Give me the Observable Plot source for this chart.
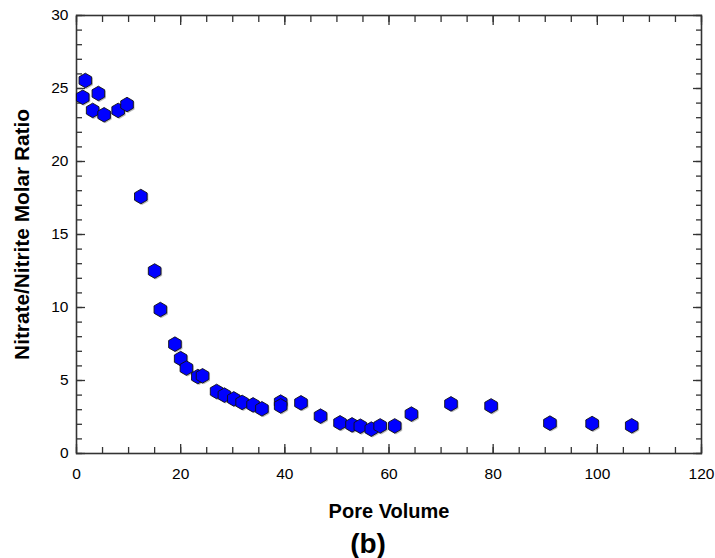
<!DOCTYPE html>
<html>
<head>
<meta charset="utf-8">
<script src="https://cdn.jsdelivr.net/npm/d3@7"></script>
<script src="https://cdn.jsdelivr.net/npm/@observablehq/plot@0.6"></script>
<style>
  html, body { margin: 0; padding: 0; background: #fff; }
  #chart svg { display: block; }
</style>
</head>
<body>
<div id="chart"></div>
<script>
const poreVolume = [1.2, 1.7, 3.1, 4.2, 5.3, 8.0, 9.7, 12.35, 15.0, 16.1, 18.9, 20.0, 21.1, 23.3, 24.2, 26.9, 28.4, 30.2, 31.8, 33.9, 35.6, 39.2, 39.2, 43.1, 46.85, 50.6, 52.9, 54.5, 56.6, 58.3, 61.1, 64.3, 71.9, 79.6, 90.9, 99.0, 106.6];
const molarRatio = [24.4, 25.55, 23.5, 24.66, 23.2, 23.5, 23.9, 17.6, 12.5, 9.86, 7.49, 6.5, 5.85, 5.27, 5.32, 4.25, 4.0, 3.74, 3.5, 3.33, 3.06, 3.52, 3.26, 3.47, 2.56, 2.1, 1.96, 1.87, 1.67, 1.89, 1.89, 2.7, 3.4, 3.26, 2.08, 2.05, 1.9];

const xMajor = [0, 20, 40, 60, 80, 100, 120];
const xMinor = d3.range(0, 121, 5);
const yMajor = [0, 5, 10, 15, 20, 25, 30];
const yMinor = d3.range(0, 31, 1);

const xTitle = "Pore Volume";
const yTitle = "Nitrate/Nitrite Molar Ratio";
const panelTag = "(b)";

const data = poreVolume.map((x, i) => ({x, y: molarRatio[i]}));
const blank = () => "";

const chart = Plot.plot({
  width: 715,
  height: 558,
  marginTop: 15,
  marginRight: 14,
  marginBottom: 105,
  marginLeft: 76,
  style: {fontFamily: "'Liberation Sans', Arial, sans-serif", background: "#fff", color: "#000"},
  x: {domain: [0, 120]},
  y: {domain: [0, 30]},
  marks: [
    // tick labels
    Plot.axisX(xMajor, {tickSize: 0, tickPadding: 14, fontSize: 15.5, label: null}),
    Plot.axisY(yMajor, {tickSize: 0, tickPadding: 8, fontSize: 15.5, label: null}),
    // inward ticks bottom/top
    Plot.axisX(xMinor, {anchor: "bottom", tickSize: -6, tickFormat: blank, label: null, stroke: "#333", strokeWidth: 1.3}),
    Plot.axisX(xMajor, {anchor: "bottom", tickSize: -9, tickFormat: blank, label: null, stroke: "#333", strokeWidth: 1.3}),
    Plot.axisX(xMinor, {anchor: "top", tickSize: -6, tickFormat: blank, label: null, stroke: "#333", strokeWidth: 1.3}),
    Plot.axisX(xMajor, {anchor: "top", tickSize: -9, tickFormat: blank, label: null, stroke: "#333", strokeWidth: 1.3}),
    // inward ticks left/right
    Plot.axisY(yMinor, {anchor: "left", tickSize: -6, tickFormat: blank, label: null, stroke: "#333", strokeWidth: 1.3}),
    Plot.axisY(yMajor, {anchor: "left", tickSize: -9, tickFormat: blank, label: null, stroke: "#333", strokeWidth: 1.3}),
    Plot.axisY(yMinor, {anchor: "right", tickSize: -6, tickFormat: blank, label: null, stroke: "#333", strokeWidth: 1.3}),
    Plot.axisY(yMajor, {anchor: "right", tickSize: -9, tickFormat: blank, label: null, stroke: "#333", strokeWidth: 1.3}),
    Plot.frame({stroke: "#333", strokeWidth: 1.6}),
    // marker shadow
    Plot.dot(data, {x: "x", y: "y", symbol: "hexagon", r: 6.3, fill: "#8a8a8a", fillOpacity: 0.6, dx: 1.2, dy: 1.2}),
    Plot.dot(data, {x: "x", y: "y", symbol: "hexagon", r: 6.3, fill: "#0000ff", stroke: "#111", strokeWidth: 0.9}),
    // titles
    Plot.text([xTitle], {frameAnchor: "bottom", lineAnchor: "bottom", dy: 64, fontSize: 20, fontWeight: "bold", fill: "#000"}),
    Plot.text([panelTag], {frameAnchor: "bottom", lineAnchor: "bottom", dy: 99, dx: -21, fontSize: 28, fontWeight: "bold", fill: "#000"}),
    Plot.text([yTitle], {frameAnchor: "left", textAnchor: "middle", lineAnchor: "bottom", rotate: -90, dx: -48, fontSize: 20.8, fontWeight: "bold", fill: "#000"})
  ]
});
document.getElementById("chart").appendChild(chart);
</script>
</body>
</html>
